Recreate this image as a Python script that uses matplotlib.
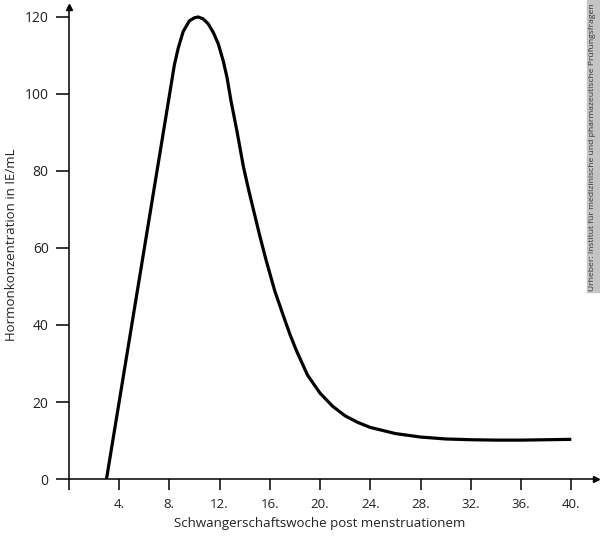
import matplotlib
matplotlib.use('Agg')
import matplotlib.pyplot as plt

plt.rcParams['font.family'] = ['Open Sans', 'DejaVu Sans']

# ── Data ──────────────────────────────────────────────────────────────────────
weeks = [3.0, 5.0, 7.0, 8.0, 8.4, 8.7, 9.1, 9.6, 10.0, 10.3, 10.7, 11.1,
         11.5, 11.9, 12.3, 12.6, 12.9, 13.4, 13.9, 14.3, 14.7, 15.2, 15.7,
         16.4, 17.1, 17.6, 18.1, 19.0, 20.0, 21.0, 22.0, 23.0, 24.0, 26.0,
         28.0, 30.0, 32.0, 34.0, 36.0, 38.0, 40.0]
hcg = [0.0, 39.8, 79.6, 99.5, 107.5, 111.8, 116.2, 119.0, 119.8, 120.0,
       119.5, 118.2, 116.0, 113.0, 108.5, 104.2, 98.4, 90.1, 81.1, 75.3,
       69.9, 63.2, 56.9, 48.8, 42.2, 37.6, 33.5, 27.0, 22.3, 18.9, 16.4,
       14.7, 13.4, 11.8, 10.9, 10.4, 10.2, 10.1, 10.1, 10.2, 10.3]

x_ticks = [0, 4, 8, 12, 16, 20, 24, 28, 32, 36, 40]
x_labels = ['', '4.', '8.', '12.', '16.', '20.', '24.', '28.', '32.', '36.', '40.']
y_ticks = [0, 20, 40, 60, 80, 100, 120]

# ── Plot ──────────────────────────────────────────────────────────────────────
fig = plt.figure(figsize=(6.0, 5.37), dpi=100)
ax = fig.add_axes([0.1147, 0.108, 0.8793, 0.879])

ax.plot(weeks, hcg, color='black', lw=2.3, solid_joinstyle='round',
        solid_capstyle='butt')

ax.set_xlim(0, 42)
ax.set_ylim(0, 122.6)
ax.set_xticks(x_ticks)
ax.set_xticklabels(x_labels, fontsize=9.5, color='#222222')
ax.set_yticks(y_ticks)
ax.set_yticklabels([str(v) for v in y_ticks], fontsize=10, color='#222222')
ax.tick_params(axis='x', direction='out', length=8, width=1.1, pad=6)
ax.tick_params(axis='y', direction='out', length=9.5, width=1.1, pad=5)

for s in ['top', 'right']:
    ax.spines[s].set_visible(False)
for s in ['left', 'bottom']:
    ax.spines[s].set_linewidth(1.1)

# arrow heads on the axes
ax.plot(1, 0, '>', color='black', ms=5, transform=ax.get_yaxis_transform(),
        clip_on=False)
ax.plot(0, 1, '^', color='black', ms=5, transform=ax.get_xaxis_transform(),
        clip_on=False)

fig.text(320 / 600, 1 - 524 / 537, 'Schwangerschaftswoche post menstruationem',
         ha='center', va='center', fontsize=9.5, color='#222222')
fig.text(12 / 600, 1 - 245 / 537, 'Hormonkonzentration in IE/mL',
         ha='center', va='center', rotation=90, fontsize=9.5, color='#222222')

# copyright tag at the right edge
fig.patches.append(plt.Rectangle((587 / 600, 1 - 292 / 537), 13 / 600, 292 / 537,
                                 transform=fig.transFigure, color='#c4c4c4',
                                 zorder=0))
fig.text(593 / 600, 1 - 147 / 537,
         'Urheber: Institut für medizinische und pharmazeutische Prüfungsfragen',
         ha='center', va='center', rotation=90, fontsize=6.1, color='#333333')

fig.savefig('out.png', dpi=100)
